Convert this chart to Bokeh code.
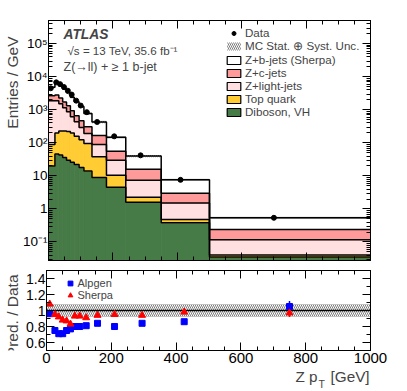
import math
import numpy as np
from bokeh.plotting import figure
from bokeh.layouts import column, row
from bokeh.models import (ColumnDataSource, FixedTicker, Label, Legend, LegendItem,
                          LinearAxis, LogAxis, Range1d, CustomLabelingPolicy)
from bokeh.embed import file_html
from bokeh.resources import INLINE

# ---------------- data ----------------
bin_edges = [0, 20, 32, 44, 56, 68, 80, 95, 110, 135, 180, 240, 350, 500, 1000]

zb_sherpa = [2210, 3620, 3220, 2570, 1980, 1470, 1110, 790, 465, 264, 92, 24.1, 4.6, 0.30]
zc_jets = [770, 960, 780, 590, 455, 320, 220, 175, 118, 77, 26.4, 8.5, 1.49, 0.123]
zlight_jets = [1790, 1680, 1290, 920, 655, 420, 280, 165, 97, 51, 19.1, 5.15, 1.03, 0.077]
top_quark = [70, 154, 187, 194, 190, 174, 138, 107, 81, 29, 6.0, 0.66, 0.10, 0.005]
diboson_vh = [20, 46, 43, 36, 30, 26, 22, 18, 14, 8.9, 4.5, 1.59, 0.38, 0.035]
mc_rel_unc = [0.08, 0.08, 0.08, 0.08, 0.08, 0.08, 0.08, 0.08, 0.08, 0.08, 0.08, 0.08, 0.08, 0.08]

data_x = [7, 24, 36, 48, 60, 72, 86, 100, 119, 151, 204, 286, 410, 700]
data_y = [4500, 6800, 6000, 4900, 3800, 2900, 1900, 1350, 850, 430, 158, 42, 7.6, 0.54]

ratio_alpgen = [0.96, 0.75, 0.71, 0.71, 0.75, 0.77, 0.80, 0.80, 0.81, 0.84, 0.80, 0.84, 0.86, 1.05]
ratio_alpgen_err = [0.01, 0.01, 0.01, 0.01, 0.01, 0.01, 0.01, 0.01, 0.01, 0.012, 0.015, 0.018, 0.025, 0.07]
ratio_sherpa = [1.08, 0.95, 0.92, 0.88, 0.87, 0.83, 0.93, 0.93, 0.91, 0.94, 0.95, 0.94, 0.98, 0.97]
ratio_sherpa_err = [0.01, 0.01, 0.01, 0.01, 0.01, 0.01, 0.01, 0.01, 0.01, 0.012, 0.015, 0.018, 0.025, 0.05]

y_tick_values = [0.1, 1.0, 10.0, 100.0, 1000.0, 10000.0, 100000.0]
y_tick_labels = ["10\u207b\u00b9", "1", "10", "10\u00b2", "10\u00b3", "10\u2074", "10\u2075"]
r_tick_values = [0.6, 0.8, 1.0, 1.2, 1.4]
r_tick_labels = ["0.6", "0.8", "1", "1.2", "1.4"]
x_tick_values = [0, 200, 400, 600, 800, 1000]

components = [
    ("Diboson, VH", diboson_vh, "#467a46"),
    ("Top quark", top_quark, "#ffcc33"),
    ("Z+light-jets", zlight_jets, "#ffdfdf"),
    ("Z+c-jets", zc_jets, "#ff9a9a"),
    ("Z+b-jets (Sherpa)", zb_sherpa, "#ffffff"),
]

FONT = "Liberation Sans"
STRIP_W = 19
W = 407 - STRIP_W
LEFT_B = 46 - STRIP_W
RIGHT_B = 407 - 370
H1, H2, H3 = 264, 105, 22

edges = np.array(bin_edges, dtype=float)
lefts, rights = edges[:-1], edges[1:]
centers = 0.5 * (lefts + rights)

HIDE_CODE = "return new indices.constructor(indices.size, 0)"


def style_axis(ax, size="14px", show=True, standoff=1):
    ax.major_tick_in = 8
    ax.major_tick_out = 0
    ax.minor_tick_in = 4
    ax.minor_tick_out = 0
    ax.axis_line_color = "black"
    ax.major_tick_line_color = "black"
    ax.minor_tick_line_color = "black"
    ax.major_label_text_font = FONT
    ax.major_label_text_color = "black"
    ax.major_label_standoff = standoff
    if show:
        ax.major_label_text_font_size = size
    else:
        ax.major_label_text_font_size = "1px"
        ax.major_label_standoff = 0
        ax.major_label_policy = CustomLabelingPolicy(code=HIDE_CODE)


def strip(width, height):
    s = figure(width=width, height=height, output_backend="svg", toolbar_location=None,
               x_range=Range1d(0, 1), y_range=Range1d(0, 1),
               x_axis_location=None, y_axis_location=None, min_border=0)
    s.grid.visible = False
    s.outline_line_color = None
    return s


# ---------------- upper panel ----------------
y_lo, y_hi = 0.0275, 5.07e5
p1 = figure(width=W, height=H1, output_backend="svg", toolbar_location=None,
            y_axis_type="log", x_range=Range1d(0, 1000), y_range=Range1d(y_lo, y_hi),
            min_border_left=LEFT_B, min_border_right=RIGHT_B,
            min_border_top=20, min_border_bottom=2)
p1.grid.visible = False
p1.outline_line_color = "black"
p1.outline_line_width = 1

x_ticker = FixedTicker(ticks=x_tick_values, minor_ticks=list(range(0, 1001, 50)))
y_minor = [m * 10.0 ** e for e in range(-2, 6) for m in range(2, 10)]
y_ticker = FixedTicker(ticks=y_tick_values, minor_ticks=y_minor)

p1.xaxis.ticker = x_ticker
style_axis(p1.xaxis[0], show=False)
p1.yaxis.ticker = y_ticker
style_axis(p1.yaxis[0], size="13.5px", standoff=1)
p1.yaxis.major_label_overrides = dict(zip(y_tick_values, y_tick_labels))

ax_top = LinearAxis(ticker=x_ticker)
style_axis(ax_top, show=False)
p1.add_layout(ax_top, "above")
ax_right = LogAxis(ticker=y_ticker)
style_axis(ax_right, show=False)
p1.add_layout(ax_right, "right")

floor = y_lo * 0.01
cum_prev = np.full(len(lefts), floor)
cum_tops = []
sources = []
first = True
for name, vals, col in components:
    base = np.zeros(len(lefts)) if first else cum_prev
    top_v = base + np.array(vals, dtype=float)
    src = ColumnDataSource(dict(left=lefts, right=rights, bottom=cum_prev, top=top_v))
    p1.quad(left="left", right="right", bottom="bottom", top="top", source=src,
            fill_color=col, line_color=col, line_width=0.8)
    sources.append(src)
    cum_tops.append(top_v)
    cum_prev = top_v
    first = False

total = cum_tops[-1]
unc = np.array(mc_rel_unc)
band_src = ColumnDataSource(dict(left=lefts, right=rights,
                                 bottom=total * (1 - unc), top=total * (1 + unc)))
p1.quad(left="left", right="right", bottom="bottom", top="top", source=band_src,
        fill_alpha=0, line_alpha=0, hatch_pattern="\\", hatch_color="#444444",
        hatch_scale=4, hatch_weight=0.7)

for ct in cum_tops:
    p1.step(x=list(edges), y=list(ct) + [ct[-1]], mode="after",
            line_color="black", line_width=1.5)

data_r = p1.scatter(x=data_x, y=data_y, marker="circle", size=5,
                    fill_color="black", line_color="black")

# legend renderers (hidden glyphs that only serve as legend swatches)
leg_items = [LegendItem(label="Data", renderers=[data_r])]
hatch_leg = p1.quad(left="left", right="right", bottom="bottom", top="top", source=band_src,
                    fill_alpha=0, line_color=None, hatch_pattern="\\", hatch_color="#444444",
                    hatch_scale=4, hatch_weight=0.7, visible=False)
leg_items.append(LegendItem(label="MC Stat. \u2295 Syst. Unc.", renderers=[hatch_leg]))
for (name, vals, col), src in reversed(list(zip(components, sources))):
    d = p1.quad(left="left", right="right", bottom="bottom", top="top", source=src,
                fill_color=col, line_color="black", line_width=1.2, visible=False)
    leg_items.append(LegendItem(label=name, renderers=[d]))

leg = Legend(items=leg_items, location=(177, 142), orientation="vertical",
             glyph_width=17, glyph_height=10, label_standoff=3, spacing=0,
             padding=0, margin=0, label_height=10, label_text_font=FONT,
             label_text_font_size="11.6px", border_line_alpha=0,
             background_fill_alpha=0, inactive_fill_alpha=0)
p1.add_layout(leg, "center")

FH1 = 242
p1.add_layout(Label(x=15, y=FH1 - 16, x_units="screen", y_units="screen", text="ATLAS",
                    text_font=FONT, text_font_size="13.8px", text_font_style="bold italic",
                    text_baseline="alphabetic"))
p1.add_layout(Label(x=19, y=FH1 - 32, x_units="screen", y_units="screen",
                    text="\u221as = 13 TeV, 35.6 fb\u207b\u00b9",
                    text_font=FONT, text_font_size="11.6px", text_baseline="alphabetic"))
p1.add_layout(Label(x=15, y=FH1 - 48, x_units="screen", y_units="screen",
                    text="Z(\u2192ll) + \u2265 1 b-jet",
                    text_font=FONT, text_font_size="12.5px", text_baseline="alphabetic"))

# ---------------- ratio panel ----------------
p2 = figure(width=W, height=H2, output_backend="svg", toolbar_location=None,
            x_range=Range1d(0, 1000), y_range=Range1d(0.5, 1.5),
            min_border_left=LEFT_B, min_border_right=RIGHT_B,
            min_border_top=6, min_border_bottom=19)
p2.grid.visible = False
p2.outline_line_color = "black"
p2.outline_line_width = 1

p2.xaxis.ticker = x_ticker
style_axis(p2.xaxis[0], size="15px", standoff=2)
r_ticker = FixedTicker(ticks=r_tick_values,
                       minor_ticks=[0.5, 0.6, 0.7, 0.8, 0.9, 1.0, 1.1, 1.2, 1.3, 1.4, 1.5])
p2.yaxis.ticker = r_ticker
style_axis(p2.yaxis[0], size="14px", standoff=1)
p2.yaxis.major_label_overrides = dict(zip(r_tick_values, r_tick_labels))

ax_top2 = LinearAxis(ticker=x_ticker)
style_axis(ax_top2, show=False)
p2.add_layout(ax_top2, "above")
ax_right2 = LinearAxis(ticker=r_ticker)
style_axis(ax_right2, show=False)
p2.add_layout(ax_right2, "right")

p2.quad(left=lefts, right=rights, bottom=1 - unc, top=1 + unc,
        fill_alpha=0, line_alpha=0, hatch_pattern="\\", hatch_color="#444444",
        hatch_scale=4, hatch_weight=0.7)
p2.line(x=[0, 1000], y=[1, 1], line_color="black", line_width=1.5)

ra = np.array(ratio_alpgen)
rae = np.array(ratio_alpgen_err)
rs = np.array(ratio_sherpa)
rse = np.array(ratio_sherpa_err)
p2.segment(x0=centers, x1=centers, y0=ra - rae, y1=ra + rae, line_color="#0000ff", line_width=1.5)
p2.segment(x0=centers, x1=centers, y0=rs - rse, y1=rs + rse, line_color="#ff0000", line_width=1.5)
sq = p2.scatter(x=centers, y=ra, marker="square", size=6, fill_color="#0000ff", line_color="#0000ff")
tr = p2.scatter(x=centers, y=rs, marker="triangle", size=7, fill_color="#ff0000", line_color="#ff0000")

leg2 = Legend(items=[LegendItem(label="Alpgen", renderers=[sq]),
                     LegendItem(label="Sherpa", renderers=[tr])],
              location=(17.5, 49), glyph_width=12, glyph_height=12, label_standoff=2,
              spacing=0, padding=0, margin=0, label_height=10, label_text_font=FONT,
              label_text_font_size="11px", border_line_alpha=0, background_fill_alpha=0)
p2.add_layout(leg2, "center")

# ---------------- title strips ----------------
s1 = strip(STRIP_W, H1)
s1.add_layout(Label(x=11.5, y=H1 - 40, x_units="screen", y_units="screen",
                    text="Entries / GeV", angle=math.pi / 2, text_align="right",
                    text_baseline="alphabetic", text_font=FONT, text_font_size="15.5px"))
s2 = strip(STRIP_W, H2)
s2.add_layout(Label(x=11.5, y=H2 - 29, x_units="screen", y_units="screen",
                    text="Pred. / Data", angle=math.pi / 2, text_align="right",
                    text_baseline="alphabetic", text_font=FONT, text_font_size="15.5px"))
s3 = strip(407, H3)
s3.add_layout(Label(x=295, y=15, x_units="screen", y_units="screen", text="Z p",
                    text_font=FONT, text_font_size="15.3px", text_baseline="alphabetic"))
s3.add_layout(Label(x=318, y=8, x_units="screen", y_units="screen", text="T",
                    text_font=FONT, text_font_size="10.5px", text_baseline="alphabetic"))
s3.add_layout(Label(x=330, y=15, x_units="screen", y_units="screen", text="[GeV]",
                    text_font=FONT, text_font_size="15.3px", text_baseline="alphabetic"))

layout = column(row(s1, p1), row(s2, p2), s3)
open("out.html", "w").write(file_html(layout, INLINE))
